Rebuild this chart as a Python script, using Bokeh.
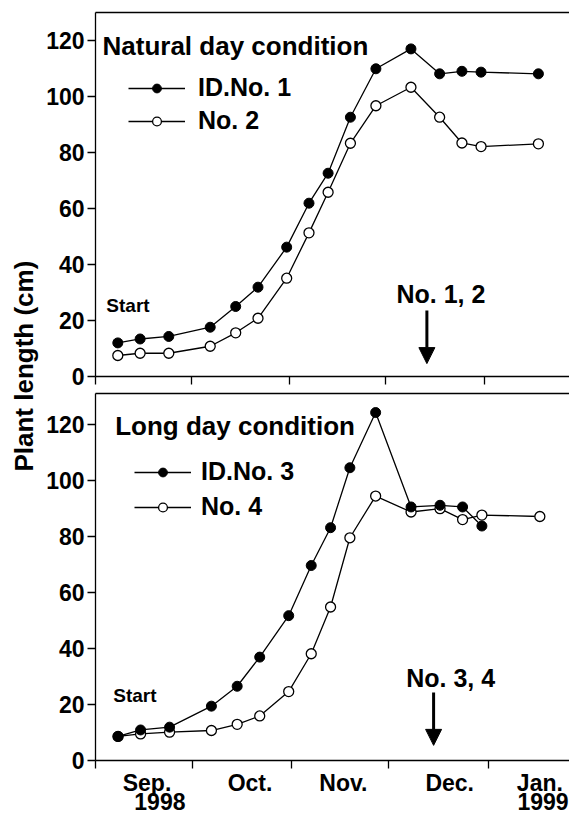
import math
from bokeh.plotting import figure
from bokeh.layouts import row, column
from bokeh.models import (Range1d, LinearAxis, FixedTicker, Label, Arrow,
                          NormalHead, Legend, LegendItem, CustomLabelingPolicy)
from bokeh.embed import file_html
from bokeh.resources import INLINE

FONT = "Liberation Sans"

# ---------------- data (days after 1 Sep 1998) ----------------
days_natural = [7, 14, 23, 36, 44, 51, 60, 67, 73, 80, 88, 99, 108, 115, 121, 139]
id_no1 = [12.0, 13.4, 14.3, 17.6, 25.0, 31.9, 46.2, 61.9, 72.6, 92.6, 109.9, 117.0, 108.1, 109.0, 108.7, 108.1]
no2 = [7.5, 8.3, 8.3, 10.8, 15.6, 20.8, 35.1, 51.3, 65.8, 83.3, 96.7, 103.3, 92.6, 83.4, 82.1, 83.1]

days_long_no3 = [7, 14, 23, 36, 44, 51, 60, 67, 73, 79, 87, 98, 107, 114, 120]
id_no3 = [8.6, 10.9, 11.9, 19.4, 26.5, 36.9, 51.7, 69.6, 83.1, 104.5, 124.2, 90.5, 91.1, 90.5, 83.7]
days_long_no4 = [7, 14, 23, 36, 44, 51, 60, 67, 73, 79, 87, 98, 107, 114, 120, 138]
no4 = [8.6, 9.5, 10.1, 10.7, 12.9, 15.9, 24.6, 38.1, 54.8, 79.5, 94.4, 88.7, 89.9, 86.0, 87.6, 87.1]

month_ticks = [0, 30, 61, 91, 122]
y_ticks = [0, 20, 40, 60, 80, 100, 120]
month_labels = ["Sep.", "Oct.", "Nov.", "Dec.", "Jan."]
month_label_pos = [16, 48, 77, 110, 138]
year_labels = ["1998", "1999"]
year_label_pos = [20, 139]

# ---------------- layout constants ----------------
PX_PER_DAY = 3.22
LABEL_W = 40
PANEL_W = 529
TOP_H, BOT_H = 390, 425

NO_LABELS = CustomLabelingPolicy(code="""
try { return new indices.constructor(indices.size, 0) } catch (e) { return indices }
""")


def style_text(d, size):
    d.update(text_font=FONT, text_font_style="bold", text_font_size=size, text_color="black")
    return d


def make_panel(left, top, bottom, frame_h, yend):
    frame_w = PANEL_W - left
    p = figure(width=PANEL_W, height=top + frame_h + bottom,
               x_range=Range1d(0, frame_w / PX_PER_DAY), y_range=Range1d(0, yend),
               output_backend="svg", toolbar_location=None,
               min_border_left=left, min_border_right=0, min_border_top=top,
               min_border_bottom=bottom, x_axis_type=None, y_axis_type=None)
    p.outline_line_color = None
    p.background_fill_color = "white"
    p.border_fill_color = "white"

    yaxis = LinearAxis(ticker=FixedTicker(ticks=y_ticks))
    yaxis.major_tick_out = 8
    yaxis.major_tick_in = 0
    yaxis.major_label_standoff = 3
    yaxis.axis_line_width = 1.3
    yaxis.major_tick_line_width = 1.3
    yaxis.major_label_text_font = FONT
    yaxis.major_label_text_font_style = "bold"
    yaxis.major_label_text_font_size = "23px"
    yaxis.major_label_text_color = "black"
    p.add_layout(yaxis, "left")

    xaxis = LinearAxis(ticker=FixedTicker(ticks=month_ticks))
    xaxis.major_tick_out = 8
    xaxis.major_tick_in = 0
    xaxis.major_label_standoff = 0
    xaxis.major_label_text_font_size = "0px"
    xaxis.major_label_policy = NO_LABELS
    xaxis.axis_line_width = 1.3
    xaxis.major_tick_line_width = 1.3
    p.add_layout(xaxis, "below")

    topaxis = LinearAxis(ticker=FixedTicker(ticks=[]))
    topaxis.major_tick_line_color = None
    topaxis.minor_tick_line_color = None
    topaxis.major_tick_out = 0
    topaxis.major_label_standoff = 0
    topaxis.major_label_text_font_size = "0px"
    topaxis.axis_line_width = 1.3
    p.add_layout(topaxis, "above")
    return p


def add_series(p, x_f, y_f, x_o, y_o, lab_f, lab_o, legend_loc, standoff, spacing):
    lo = p.line(x_o, y_o, line_color="black", line_width=1.3)
    so = p.scatter(x_o, y_o, size=10, marker="circle", fill_color="white",
                   line_color="black", line_width=1.3)
    lf = p.line(x_f, y_f, line_color="black", line_width=1.3)
    sf = p.scatter(x_f, y_f, size=10, marker="circle", fill_color="black",
                   line_color="black", line_width=1.0)
    legend = Legend(items=[LegendItem(label=lab_f, renderers=[lf, sf]),
                           LegendItem(label=lab_o, renderers=[lo, so])],
                    location=legend_loc)
    legend.border_line_color = None
    legend.background_fill_alpha = 0
    legend.label_text_font = FONT
    legend.label_text_font_style = "bold"
    legend.label_text_font_size = "25px"
    legend.label_text_color = "black"
    legend.glyph_width = 57
    legend.glyph_height = 22
    legend.label_standoff = standoff
    legend.padding = 0
    legend.margin = 0
    legend.spacing = spacing
    p.add_layout(legend)


def add_texts(p, title, tx, ty, sx, sy, arrow_txt, ax, atx, aty, ay0, ay1):
    p.add_layout(Label(**style_text(dict(x=tx, y=ty, text=title, text_baseline="middle"), "26px")))
    p.add_layout(Label(**style_text(dict(x=sx, y=sy, text="Start", text_baseline="middle"), "19px")))
    p.add_layout(Label(**style_text(dict(x=atx, y=aty, text=arrow_txt, text_align="center",
                                         text_baseline="middle"), "25px")))
    p.add_layout(Arrow(x_start=ax, y_start=ay0, x_end=ax, y_end=ay1, line_width=3,
                       line_color="black",
                       end=NormalHead(size=16, fill_color="black", line_color="black",
                                      line_width=1)))


# ---------------- top panel ----------------
top = make_panel(left=50, top=12, bottom=14, frame_h=364, yend=130)
add_series(top, days_natural, id_no1, days_natural, no2, "ID.No. 1", "No. 2",
           (33, 241), 13, 4)
add_texts(top, "Natural day condition", 2.2, 117.9, 3.4, 25.4,
          "No. 1, 2", 104, 108.4, 29.6, 23.6, 4.6)

# ---------------- bottom panel ----------------
bot = make_panel(left=55, top=3, bottom=55, frame_h=367, yend=131)
add_series(bot, days_long_no3, id_no3, days_long_no4, no4, "ID.No. 3", "No. 4",
           (39, 239), 10, 6)
add_texts(bot, "Long day condition", 6.1, 119.5, 5.5, 23.2,
          "No. 3, 4", 105, 110.3, 29.6, 24.3, 5.4)

month_axis = LinearAxis(ticker=FixedTicker(ticks=month_label_pos),
                        major_label_overrides={p: t for p, t in zip(month_label_pos, month_labels)})
year_axis = LinearAxis(ticker=FixedTicker(ticks=year_label_pos),
                       major_label_overrides={p: t for p, t in zip(year_label_pos, year_labels)})
for ax, so in ((month_axis, 1), (year_axis, -6)):
    ax.axis_line_color = None
    ax.major_tick_line_color = None
    ax.minor_tick_line_color = None
    ax.major_tick_out = 0
    ax.major_tick_in = 0
    ax.major_label_standoff = so
    ax.major_label_text_font = FONT
    ax.major_label_text_font_style = "bold"
    ax.major_label_text_font_size = "23px"
    ax.major_label_text_color = "black"
    bot.add_layout(ax, "below")

# ---------------- shared y label ----------------
lab = figure(width=LABEL_W, height=TOP_H + BOT_H, x_range=Range1d(0, LABEL_W),
             y_range=Range1d(0, TOP_H + BOT_H), output_backend="svg",
             toolbar_location=None, min_border=0, x_axis_type=None, y_axis_type=None)
lab.outline_line_color = None
lab.add_layout(Label(**style_text(dict(x=23, y=453, text="Plant length  (cm)", angle=math.pi / 2,
                                       text_align="center", text_baseline="middle"), "26px")))

layout = row(lab, column(top, bot, spacing=0), spacing=0)
open("out.html", "w").write(file_html(layout, INLINE))
